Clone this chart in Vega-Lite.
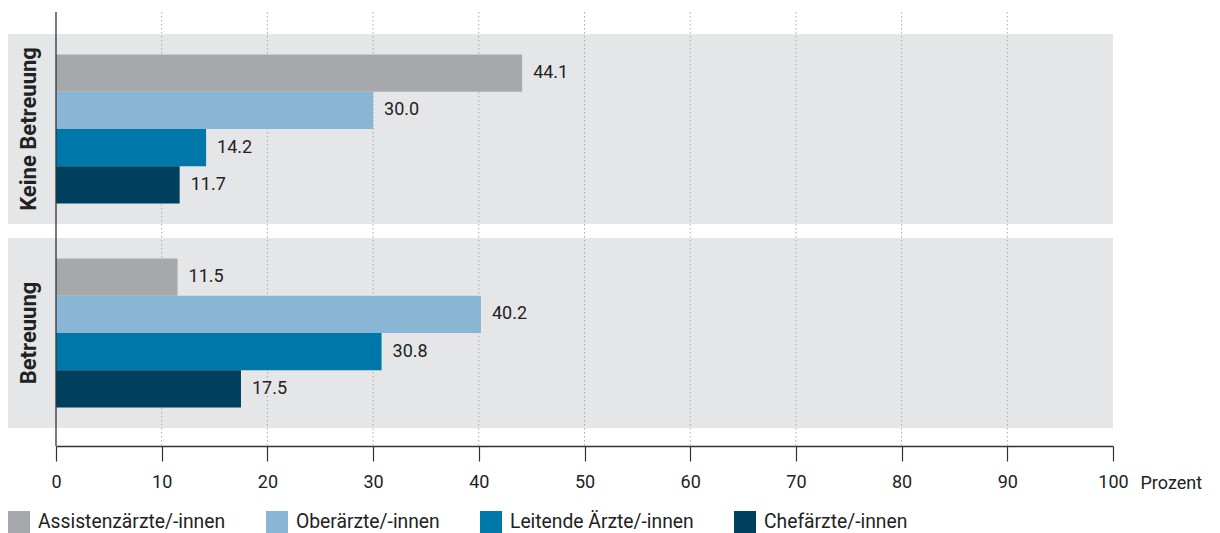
{
  "$schema": "https://vega.github.io/schema/vega-lite/v6.json",
  "width": 1057,
  "height": 434,
  "autosize": {"type": "none"},
  "padding": {"left": 56, "top": 12, "right": 107, "bottom": 87},
  "config": {"view": {"stroke": null}, "font": "Roboto"},
  "datasets": {
    "bars": [
      {"group": "Keine Betreuung", "cat": "Assistenzärzte/-innen", "value": 44.1},
      {"group": "Keine Betreuung", "cat": "Oberärzte/-innen", "value": 30.0},
      {"group": "Keine Betreuung", "cat": "Leitende Ärzte/-innen", "value": 14.2},
      {"group": "Keine Betreuung", "cat": "Chefärzte/-innen", "value": 11.7},
      {"group": "Betreuung", "cat": "Assistenzärzte/-innen", "value": 11.5},
      {"group": "Betreuung", "cat": "Oberärzte/-innen", "value": 40.2},
      {"group": "Betreuung", "cat": "Leitende Ärzte/-innen", "value": 30.8},
      {"group": "Betreuung", "cat": "Chefärzte/-innen", "value": 17.5}
    ],
    "groups": [{"group": "Keine Betreuung"}, {"group": "Betreuung"}],
    "grid": [{"g": 10}, {"g": 20}, {"g": 30}, {"g": 40}, {"g": 50}, {"g": 60}, {"g": 70}, {"g": 80}, {"g": 90}],
    "zero": [{"g": 0}]
  },
  "layer": [
    {
      "data": {"name": "groups"},
      "mark": {"type": "rect", "color": "#e5e6e8"},
      "encoding": {
        "y": {"field": "group", "type": "nominal",
          "scale": {"domain": ["Keine Betreuung", "Betreuung"], "range": [22, 416], "paddingInner": 0.0686, "paddingOuter": 0},
          "axis": null},
        "x": {"datum": -4.54, "type": "quantitative"},
        "x2": {"datum": 100}
      }
    },
    {
      "data": {"name": "grid"},
      "mark": {"type": "rule", "color": "#aaaaaa", "strokeDash": [1.5, 2.5], "strokeWidth": 1},
      "encoding": {
        "x": {"field": "g", "type": "quantitative"}
      }
    },
    {
      "data": {"name": "bars"},
      "mark": {"type": "bar"},
      "encoding": {
        "y": {"field": "group", "type": "nominal"},
        "yOffset": {"field": "cat", "type": "nominal",
          "sort": ["Assistenzärzte/-innen", "Oberärzte/-innen", "Leitende Ärzte/-innen", "Chefärzte/-innen"],
          "scale": {"paddingInner": 0, "paddingOuter": 0.55}},
        "x": {"field": "value", "type": "quantitative",
          "scale": {"domain": [0, 100], "nice": false, "zero": true},
          "axis": {"grid": false, "values": [0, 10, 20, 30, 40, 50, 60, 70, 80, 90, 100], "labelFlush": false,
            "domainColor": "#333333", "domainWidth": 1.3, "tickColor": "#333333", "tickSize": 15, "tickWidth": 1.2,
            "labelFontSize": 18, "labelColor": "#222222", "labelPadding": 12,
            "title": "Prozent", "titleFontWeight": "normal", "titleFontSize": 18, "titleColor": "#222222",
            "titleAnchor": "start", "titleAlign": "left", "titleBaseline": "middle", "titleX": 1084, "titleY": 37}},
        "color": {"field": "cat", "type": "nominal",
          "scale": {"domain": ["Assistenzärzte/-innen", "Oberärzte/-innen", "Leitende Ärzte/-innen", "Chefärzte/-innen"],
            "range": ["#a7a8ab", "#8ab6d6", "#0077a9", "#00405f"]},
          "legend": {"orient": "none", "legendX": -48, "legendY": 499, "direction": "horizontal", "title": null,
            "symbolType": "square", "symbolSize": 484, "symbolStrokeWidth": 0, "symbolOpacity": 1,
            "labelFontSize": 19.3, "labelColor": "#222222", "labelOffset": 8, "labelLimit": 400,
            "columnPadding": 40, "padding": 0}}
      }
    },
    {
      "data": {"name": "zero"},
      "mark": {"type": "rule", "color": "#333333", "strokeWidth": 1.3},
      "encoding": {
        "x": {"field": "g", "type": "quantitative"}
      }
    },
    {
      "data": {"name": "bars"},
      "mark": {"type": "text", "align": "left", "baseline": "middle", "dx": 11, "fontSize": 18, "color": "#222222"},
      "encoding": {
        "y": {"field": "group", "type": "nominal"},
        "yOffset": {"field": "cat", "type": "nominal",
          "sort": ["Assistenzärzte/-innen", "Oberärzte/-innen", "Leitende Ärzte/-innen", "Chefärzte/-innen"]},
        "x": {"field": "value", "type": "quantitative"},
        "text": {"field": "value", "type": "quantitative", "format": ".1f"}
      }
    },
    {
      "data": {"name": "groups"},
      "mark": {"type": "text", "angle": 270, "align": "center", "baseline": "middle", "fontSize": 22, "fontWeight": "bold", "color": "#222222"},
      "encoding": {
        "y": {"field": "group", "type": "nominal"},
        "x": {"datum": -2.6, "type": "quantitative"},
        "text": {"field": "group", "type": "nominal"}
      }
    }
  ]
}
